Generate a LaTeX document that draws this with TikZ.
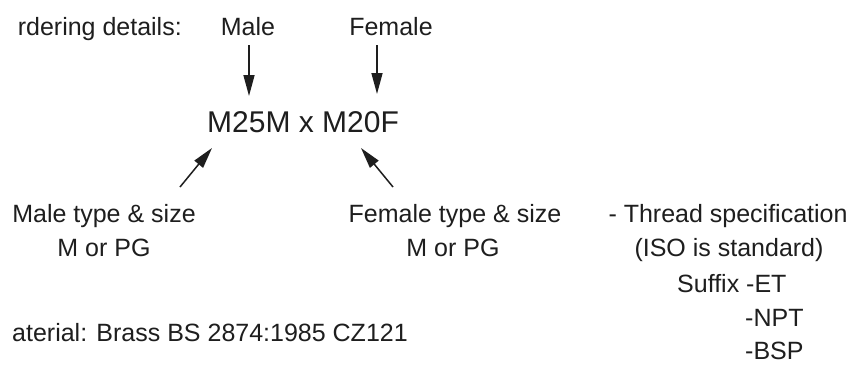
\documentclass[tikz,border=0pt]{standalone}
\usepackage{fontspec}
\setmainfont{Liberation Sans}
\usetikzlibrary{arrows.meta}
\definecolor{ink}{HTML}{1E1E1E}
\begin{document}
\begin{tikzpicture}[x=1pt,y=-1pt,
  lbl/.style={inner sep=0pt,text=ink,font=\fontsize{25}{30}\selectfont},
  code/.style={inner sep=0pt,text=ink,font=\fontsize{30}{36}\selectfont},
  arr/.style={draw=ink,line width=1.5pt,-{Triangle[length=21pt,width=11pt]}}]
\useasboundingbox[fill=white] (0,0) rectangle (854,365);
% top line
\node[lbl,anchor=base east] (ord) at (182,35) {rdering details:};
\node[lbl,anchor=base] (male) at (248,35) {Male};
\node[lbl,anchor=base] (female) at (391,35) {Female};
% code
\node[code,anchor=base west] (code) at (207,132) {M25M x M20F};
% lower labels
\node[lbl,anchor=base] (mts) at (104,222) {Male type \& size};
\node[lbl,anchor=base] (mpg) at (104,256) {M or PG};
\node[lbl,anchor=base] (fts) at (455,222) {Female type \& size};
\node[lbl,anchor=base] (fpg) at (453,256) {M or PG};
\node[lbl,anchor=base] (thr) at (728,222) {- Thread specification};
\node[lbl,anchor=base] (iso) at (729,256) {(ISO is standard)};
\node[lbl,anchor=base west] (suf) at (677,292) {Suffix -ET};
\node[lbl,anchor=base west] (npt) at (745,326) {-NPT};
\node[lbl,anchor=base west] (bsp) at (745,359) {-BSP};
\node[lbl,anchor=base east] (mat) at (408,341) {aterial: Brass BS 2874:1985 CZ121};
% arrow end points
\coordinate (mtop) at (249,45);
\coordinate (mtip) at (249,96);
\coordinate (ftop) at (377,45);
\coordinate (ftip) at (377,94);
\coordinate (ltail) at (180,187);
\coordinate (ltip) at (212,148);
\coordinate (rtail) at (393,187);
\coordinate (rtip) at (361,148);
\draw[arr] (mtop) -- (mtip);
\draw[arr] (ftop) -- (ftip);
\draw[arr] (ltail) -- (ltip);
\draw[arr] (rtail) -- (rtip);
\end{tikzpicture}
\end{document}
